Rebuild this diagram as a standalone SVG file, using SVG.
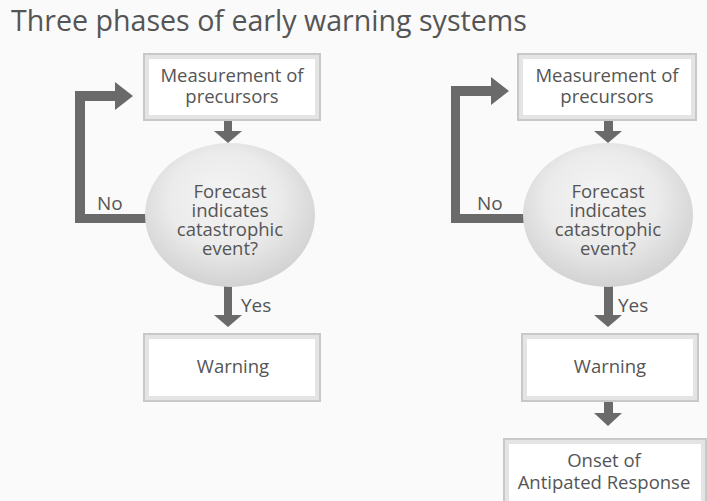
<svg xmlns="http://www.w3.org/2000/svg" width="707" height="501" viewBox="0 0 707 501">
  <defs>
    <radialGradient id="ballShade" cx="0.48" cy="0.42" r="0.6" fx="0.45" fy="0.35">
      <stop offset="0" stop-color="#f4f4f4"/>
      <stop offset="0.55" stop-color="#ebebeb"/>
      <stop offset="1" stop-color="#d0d0d0"/>
    </radialGradient>
  </defs>
  <style>
    .bg { fill: #fafafa; }
    .title { font-family: "Open Sans", "Noto Sans", sans-serif; font-size: 28.6px; fill: #555555; }
    .lbl { font-family: "Open Sans", "Noto Sans", sans-serif; font-size: 18.5px; fill: #555555; text-anchor: middle; }
    .side { font-family: "Open Sans", "Noto Sans", sans-serif; font-size: 19px; fill: #555555; }
    .frame { fill: #ffffff; stroke: #c8c8c8; stroke-width: 2; }
    .inner { fill: none; stroke: #e4e4e4; stroke-width: 4; }
    .arrow { fill: #6a6a6a; }
    .ball { fill: url(#ballShade); }
  </style>

  <rect class="bg" x="0" y="0" width="707" height="501"/>
  <text class="title" x="11" y="31">Three phases of early warning systems</text>

  <!-- connectors -->
  <g id="connectors">
    <!-- left loop (No) -->
    <polygon class="arrow" points="75,223 75,91 115,91 115,82 133,96 115,110 115,101 85,101 85,214 150,214 150,223"/>
    <polygon class="arrow" points="224,120 232,120 232,131 242,131 228,143 214,131 224,131"/>
    <polygon class="arrow" points="224,284 232,284 232,315 242,315 228,327 214,315 224,315"/>
    <!-- right loop (No) -->
    <polygon class="arrow" points="451,223 451,86 491,86 491,77 509,91 491,105 491,96 460,96 460,214 530,214 530,223"/>
    <polygon class="arrow" points="604,121 613,121 613,131 622,131 608,143 594,131 604,131"/>
    <polygon class="arrow" points="604,284 613,284 613,315 622,315 608,327 594,315 604,315"/>
    <polygon class="arrow" points="604,401 613,401 613,413 622,413 608,426 594,413 604,413"/>
  </g>

  <!-- left column -->
  <g id="measure-left">
    <rect class="frame" x="144" y="54" width="176" height="66"/>
    <rect class="inner" x="147" y="57" width="170" height="60"/>
    <text class="lbl" x="232" y="82">Measurement of</text>
    <text class="lbl" x="232" y="103">precursors</text>
  </g>
  <g id="forecast-left">
    <ellipse class="ball" cx="230" cy="215" rx="85" ry="72"/>
    <text class="lbl" x="230" y="198">Forecast</text>
    <text class="lbl" x="230" y="217">indicates</text>
    <text class="lbl" x="230" y="236">catastrophic</text>
    <text class="lbl" x="230" y="255">event?</text>
  </g>
  <text class="side" x="97" y="210">No</text>
  <text class="side" x="241" y="312">Yes</text>
  <g id="warning-left">
    <rect class="frame" x="144" y="334" width="176" height="67"/>
    <rect class="inner" x="147" y="337" width="170" height="61"/>
    <text class="lbl" x="233" y="373">Warning</text>
  </g>

  <!-- right column -->
  <g id="measure-right">
    <rect class="frame" x="518" y="54" width="178" height="66"/>
    <rect class="inner" x="521" y="57" width="172" height="60"/>
    <text class="lbl" x="607" y="82">Measurement of</text>
    <text class="lbl" x="607" y="103">precursors</text>
  </g>
  <g id="forecast-right">
    <ellipse class="ball" cx="608" cy="215" rx="85" ry="72"/>
    <text class="lbl" x="608" y="198">Forecast</text>
    <text class="lbl" x="608" y="217">indicates</text>
    <text class="lbl" x="608" y="236">catastrophic</text>
    <text class="lbl" x="608" y="255">event?</text>
  </g>
  <text class="side" x="477" y="210">No</text>
  <text class="side" x="618" y="312">Yes</text>
  <g id="warning-right">
    <rect class="frame" x="522" y="334" width="176" height="67"/>
    <rect class="inner" x="525" y="337" width="170" height="61"/>
    <text class="lbl" x="610" y="373">Warning</text>
  </g>
  <g id="onset">
    <rect class="frame" x="504" y="439" width="202" height="70"/>
    <rect class="inner" x="507" y="442" width="196" height="64"/>
    <text class="lbl" x="604" y="467">Onset of</text>
    <text class="lbl" x="604" y="489">Antipated Response</text>
  </g>
</svg>
